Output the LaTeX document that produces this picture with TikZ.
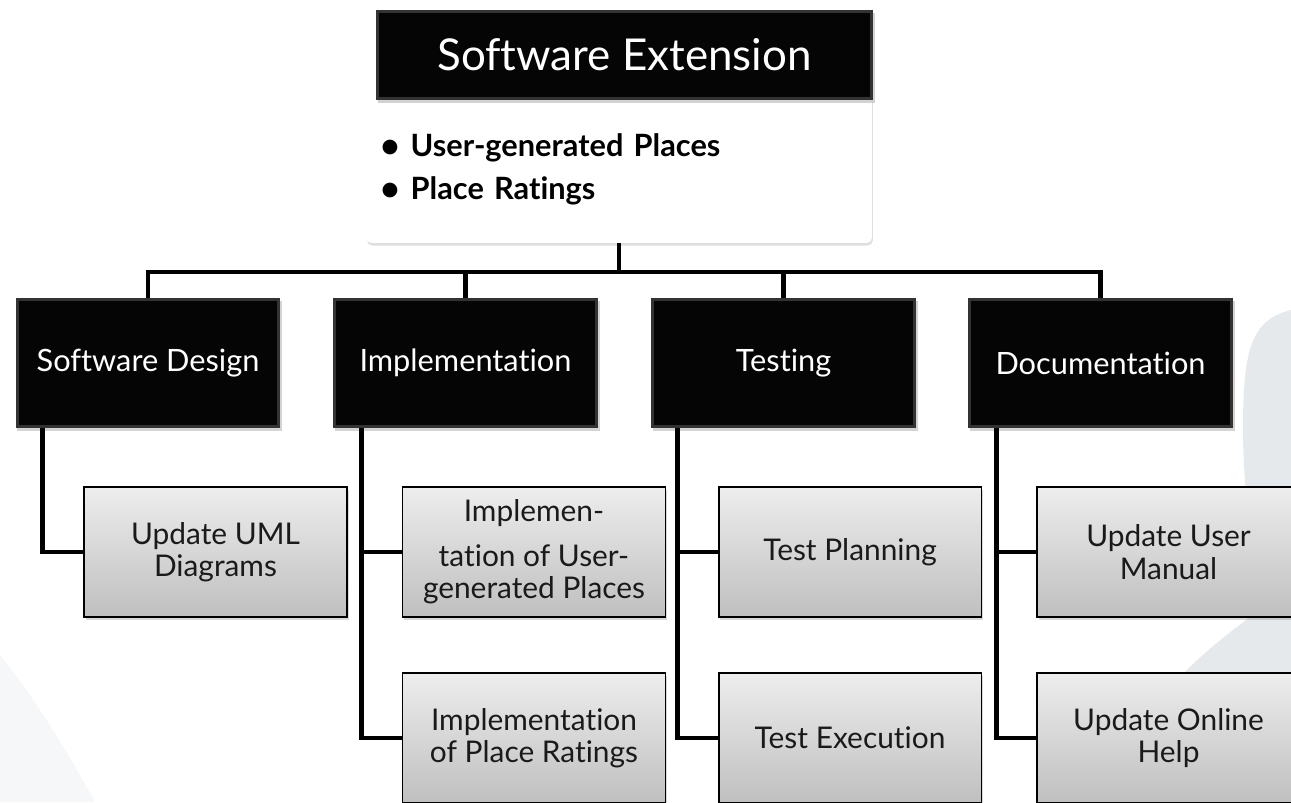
\documentclass[tikz,border=0pt]{standalone}
\usepackage{fontspec}
\setmainfont{Lato}[Ligatures={NoCommon,NoRequired,NoContextual}]
\newfontfamily\symfont{DejaVu Sans}
\usetikzlibrary{positioning, shadows}
\definecolor{ghostgray}{HTML}{E5E9EC}
\definecolor{arcgray}{HTML}{F6F7F9}
\definecolor{bevelgray}{HTML}{333333}
\definecolor{taskgray}{HTML}{1A1A1A}
\newcommand{\dotmark}{\raisebox{2pt}{\symfont\fontsize{11}{11}\selectfont ●}\hspace{7pt}}
\tikzset{
    darkbox/.style={rectangle, fill=bevelgray, text=white, minimum width=5.3cm, minimum height=2.6cm, align=center, font=\fontsize{17.5}{20}\selectfont,
        drop shadow={shadow xshift=1pt, shadow yshift=-1.5pt, opacity=0.35},
        path picture={\fill[black!98] ([shift={(1.8pt,1.8pt)}]path picture bounding box.south west) rectangle ([shift={(-1.8pt,-1.8pt)}]path picture bounding box.north east);}},
    rootbox/.style={darkbox, minimum width=9.94cm, minimum height=1.8cm, font=\fontsize{25}{30}\selectfont},
    rootlist/.style={rectangle, rounded corners=3pt, fill=white, drop shadow={shadow xshift=0.5pt, shadow yshift=-1.5pt, opacity=0.25}, text width=9.5cm, inner xsep=0.31cm, minimum height=2.96cm, align=left, font=\fontsize{17.5}{24.4}\selectfont\bfseries},
    taskbox/.style={rectangle, draw=black, line width=1.1pt, top color=black!7, bottom color=black!25, text=taskgray, minimum width=5.26cm, minimum height=2.6cm, align=center, font=\fontsize{17}{18.5}\selectfont,
        drop shadow={shadow xshift=1pt, shadow yshift=-1.5pt, opacity=0.3}},
    link/.style={line width=2.8pt, draw=black}
}
\begin{document}
\begin{tikzpicture}[x=0.02cm, y=-0.02cm]
\useasboundingbox (0,0) rectangle (1291,802);
\begin{scope}
\clip (0,0) rectangle (1291,802);
% faint backdrop
\fill[arcgray] (0,655) .. controls (40,705) and (72,760) .. (95,802) -- (0,802) -- cycle;
\fill[ghostgray] (1291,306) -- (1291,802) -- (1110,802) .. controls (1140,700) and (1200,655) .. (1250,617)
    .. controls (1256,560) and (1243,500) .. (1243,430) .. controls (1243,352) and (1250,320) .. (1291,310) -- cycle;

% root
\node[rootlist] (extlist) at (619,169) {\dotmark User-generated Places\\ \dotmark Place Ratings};
\node[rootbox] (ext) at (624.5,55) {Software Extension};

% second level
\node[darkbox] (design) at (148,363) {Software Design};
\node[darkbox] (impl) at (465.5,363) {Implementation};
\node[darkbox] (test) at (783.5,363) {Testing};
\node[darkbox] (doc) at (1100.5,363) {Documentation};

% work packages
\node[taskbox] (uml) at (215.5,552) {Update UML\\Diagrams};
\node[taskbox] (implplaces) at (534,552) {Implemen-\\[7pt]tation of User-\\generated Places};
\node[taskbox] (implratings) at (534,738) {Implementation\\of Place Ratings};
\node[taskbox] (testplan) at (850,552) {Test Planning};
\node[taskbox] (testexec) at (850,738) {Test Execution};
\node[taskbox] (manual) at (1168.5,552) {Update User\\Manual};
\node[taskbox] (onlinehelp) at (1168.5,738) {Update Online\\Help};

% connectors
\coordinate (busline) at (0,272);
\draw[link] (extlist.south) -- (extlist.south |- busline);
\foreach \n in {design, impl, test, doc}
    \draw[link] (extlist.south |- busline) -| (\n.north);
\draw[link] ([xshift=0.54cm]design.south west) |- (uml.west);
\draw[link] ([xshift=0.58cm]impl.south west) |- (implplaces.west);
\draw[link] ([xshift=0.58cm]impl.south west) |- (implratings.west);
\draw[link] ([xshift=0.54cm]test.south west) |- (testplan.west);
\draw[link] ([xshift=0.54cm]test.south west) |- (testexec.west);
\draw[link] ([xshift=0.58cm]doc.south west) |- (manual.west);
\draw[link] ([xshift=0.58cm]doc.south west) |- (onlinehelp.west);
\end{scope}
\end{tikzpicture}
\end{document}
